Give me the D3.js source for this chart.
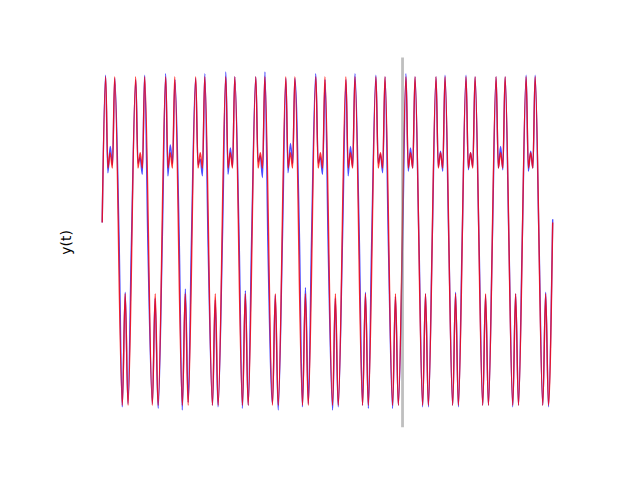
<!DOCTYPE html>
<html><head><meta charset="utf-8">
<script src="https://cdn.jsdelivr.net/npm/d3@7"></script>
<style>html,body{margin:0;padding:0;background:#fff}</style>
</head><body>
<svg id="chart" width="640" height="480"></svg>
<script>
// Reference signal (red): turning points, t in periods
const redT = [0,
 0.115,0.19,0.265,0.34,0.415,0.67,0.765,0.86,
 1.115,1.19,1.265,1.34,1.415,1.67,1.765,1.86,
 2.115,2.19,2.265,2.34,2.415,2.67,2.765,2.86,
 3.115,3.19,3.265,3.34,3.415,3.67,3.765,3.86,
 4.115,4.19,4.265,4.34,4.415,4.67,4.765,4.86,
 5.115,5.19,5.265,5.34,5.415,5.67,5.765,5.86,
 6.115,6.19,6.265,6.34,6.415,6.67,6.765,6.86,
 7.115,7.19,7.265,7.34,7.415,7.67,7.765,7.86,
 8.115,8.19,8.265,8.34,8.415,8.67,8.765,8.86,
 9.115,9.19,9.265,9.34,9.415,9.67,9.765,9.86,
 10.115,10.19,10.265,10.34,10.415,10.67,10.765,10.86,
 11.115,11.19,11.265,11.34,11.415,11.67,11.765,11.86,
 12.115,12.19,12.265,12.34,12.415,12.67,12.765,12.86,
 13.115,13.19,13.265,13.34,13.415,13.67,13.765,13.86,
 14.115,14.19,14.265,14.34,14.415,14.67,14.765,14.86,
 15];
const redY = [0.12,
 1.06,0.47,0.57,0.47,1.06,-1.06,-0.34,-1.06,
 1.06,0.47,0.57,0.47,1.06,-1.06,-0.34,-1.06,
 1.06,0.47,0.57,0.47,1.06,-1.06,-0.34,-1.06,
 1.06,0.47,0.57,0.47,1.06,-1.06,-0.34,-1.06,
 1.06,0.47,0.57,0.47,1.06,-1.06,-0.34,-1.06,
 1.06,0.47,0.57,0.47,1.06,-1.06,-0.34,-1.06,
 1.06,0.47,0.57,0.47,1.06,-1.06,-0.34,-1.06,
 1.06,0.47,0.57,0.47,1.06,-1.06,-0.34,-1.06,
 1.06,0.47,0.57,0.47,1.06,-1.06,-0.34,-1.06,
 1.06,0.47,0.57,0.47,1.06,-1.06,-0.34,-1.06,
 1.06,0.47,0.57,0.47,1.06,-1.06,-0.34,-1.06,
 1.06,0.47,0.57,0.47,1.06,-1.06,-0.34,-1.06,
 1.06,0.47,0.57,0.47,1.06,-1.06,-0.34,-1.06,
 1.06,0.47,0.57,0.47,1.06,-1.06,-0.34,-1.06,
 1.06,0.47,0.57,0.47,1.06,-1.06,-0.34,-1.06,
 0.12];

// Noisy measured signal (blue): estimated vertices
const blueT = [0,
 0.112,0.188,0.268,0.343,0.418,0.560,0.668,0.766,0.858,0.970,
 1.118,1.193,1.262,1.337,1.412,1.525,1.672,1.760,1.863,2.005,
 2.114,2.186,2.266,2.345,2.421,2.562,2.666,2.769,2.864,2.968,
 3.110,3.192,3.264,3.339,3.416,3.528,3.674,3.763,3.856,4.008,
 4.117,4.189,4.267,4.342,4.413,4.558,4.669,4.767,4.861,4.972,
 5.113,5.191,5.263,5.338,5.419,5.522,5.671,5.762,5.859,6.004,
 6.116,6.187,6.268,6.344,6.414,6.565,6.667,6.768,6.865,6.966,
 7.111,7.192,7.262,7.338,7.420,7.526,7.673,7.761,7.857,8.006,
 8.118,8.188,8.266,8.341,8.415,8.559,8.668,8.766,8.862,8.969,
 9.114,9.190,9.264,9.340,9.418,9.530,9.670,9.764,9.860,10.003,
 10.115,10.190,10.265,10.341,10.416,10.545,10.670,10.765,10.861,10.988,
 11.116,11.189,11.266,11.340,11.414,11.541,11.669,11.766,11.859,11.986,
 12.114,12.191,12.264,12.339,12.415,12.544,12.671,12.764,12.860,12.989,
 13.115,13.190,13.265,13.340,13.416,13.542,13.670,13.765,13.861,13.987,
 14.116,14.189,14.266,14.341,14.414,14.543,14.669,14.766,14.860,14.988,
 15];
const blueY = [0.12,
 1.07,0.44,0.61,0.49,1.05,0.03,-1.07,-0.33,-1.05,-0.04,
 1.04,0.50,0.54,0.43,1.07,-0.06,-1.05,-0.37,-1.08,0.05,
 1.08,0.42,0.62,0.50,1.04,0.04,-1.09,-0.31,-1.04,-0.03,
 1.05,0.49,0.53,0.42,1.08,-0.04,-1.06,-0.38,-1.07,0.06,
 1.09,0.43,0.60,0.48,1.06,0.02,-1.08,-0.32,-1.06,-0.02,
 1.06,0.51,0.55,0.41,1.09,-0.07,-1.05,-0.35,-1.09,0.04,
 1.05,0.44,0.63,0.50,1.05,0.05,-1.07,-0.30,-1.05,-0.03,
 1.08,0.50,0.54,0.43,1.04,-0.05,-1.09,-0.37,-1.07,0.05,
 1.04,0.42,0.61,0.48,1.08,0.03,-1.06,-0.33,-1.08,-0.04,
 1.07,0.50,0.56,0.44,1.06,-0.03,-1.08,-0.36,-1.06,0.02,
 1.08,0.45,0.60,0.47,1.06,0.01,-1.07,-0.34,-1.07,0.00,
 1.06,0.48,0.58,0.45,1.07,-0.01,-1.06,-0.33,-1.07,0.01,
 1.07,0.46,0.57,0.48,1.06,0.02,-1.06,-0.35,-1.06,-0.01,
 1.06,0.47,0.61,0.46,1.06,0.00,-1.07,-0.34,-1.06,0.01,
 1.07,0.45,0.58,0.47,1.07,0.01,-1.06,-0.33,-1.07,0.00,
 0.14];

const splitT = [10];
const yLabel = "y(t)";

const svg = d3.select("#chart");
svg.append("rect").attr("width",640).attr("height",480).attr("fill","#fff");

const x = d3.scaleLinear().domain([0, 15]).range([102.2, 552.7]);
const y = d3.scaleLinear().domain([-1.1, 1.1]).range([411.5, 70.5]);

const line = d3.line().x(d => x(d[0])).y(d => y(d[1])).curve(d3.curveMonotoneX);

svg.append("path").datum(d3.zip(blueT, blueY))
  .attr("d", line).attr("fill","none")
  .attr("stroke","#0000ff").attr("stroke-opacity",0.7)
  .attr("stroke-width",1.4).attr("stroke-linejoin","round");

svg.append("path").datum(d3.zip(redT, redY))
  .attr("d", line).attr("fill","none")
  .attr("stroke","#ff0000").attr("stroke-opacity",0.8)
  .attr("stroke-width",1.4).attr("stroke-linejoin","round");

svg.selectAll("line.split").data(splitT).enter().append("line")
  .attr("class","split")
  .attr("x1", d => x(d)).attr("x2", d => x(d))
  .attr("y1", 57.6).attr("y2", 427.2)
  .attr("stroke","#808080").attr("stroke-opacity",0.5)
  .attr("stroke-width",2.8);

svg.append("text")
  .attr("transform","translate(71.3,242.4) rotate(-90)")
  .attr("text-anchor","middle")
  .attr("font-family","DejaVu Sans")
  .attr("font-size","13.9px")
  .attr("fill","#000")
  .text(yLabel);
</script>
</body></html>
